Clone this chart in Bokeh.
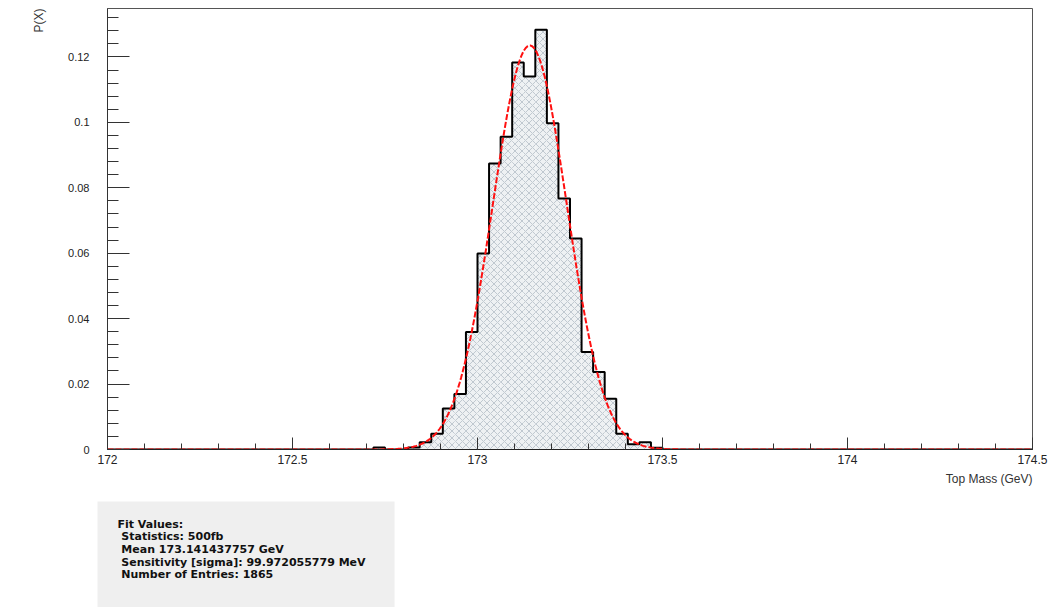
import numpy as np
from bokeh.plotting import figure
from bokeh.models import (Range1d, FixedTicker, NumeralTickFormatter, Title, Label)
from bokeh.embed import file_html
from bokeh.resources import INLINE

# ---- histogram of the reconstructed top mass (normalised per bin) ----
mass_lo, mass_hi, n_bins = 172.0, 174.5, 80
probs = [0.0] * n_bins
filled = {
    23: 0.0006, 26: 0.0006, 27: 0.0022, 28: 0.0048, 29: 0.0125, 30: 0.0170,
    31: 0.0359, 32: 0.0599, 33: 0.0874, 34: 0.0956, 35: 0.1183, 36: 0.1140,
    37: 0.1283, 38: 0.0997, 39: 0.0767, 40: 0.0645, 41: 0.0298, 42: 0.0237,
    43: 0.0155, 44: 0.0048, 45: 0.0016, 46: 0.0022, 47: 0.0005,
}
for b, v in filled.items():
    probs[b] = v

# ---- gaussian fit result ----
fit_mean = 173.141437757          # GeV
fit_sigma_mev = 99.972055779      # MeV
fit_const = 0.1235
n_entries = 1865
statistics = "500fb"

y_ticks = [0.0, 0.02, 0.04, 0.06, 0.08, 0.10, 0.12]
x_ticks = [172.0, 172.5, 173.0, 173.5, 174.0, 174.5]

edges = np.linspace(mass_lo, mass_hi, n_bins + 1)
probs = np.array(probs)

p = figure(width=1048, height=607, output_backend="svg", toolbar_location=None,
           x_range=Range1d(mass_lo, mass_hi), y_range=Range1d(0, 0.1348),
           min_border_left=107, min_border_right=16, min_border_top=8,
           min_border_bottom=158)
p.grid.visible = False
p.background_fill_color = "white"
p.border_fill_color = "white"
p.outline_line_color = "#555555"
p.outline_line_width = 1

# hatched fill of the histogram
p.quad(left=edges[:-1], right=edges[1:], bottom=0, top=probs,
       fill_color="#eef1f3", line_color=None,
       hatch_pattern="x", hatch_color="#b4bec6", hatch_scale=7, hatch_weight=0.8)

# histogram outline
step_y = np.append(probs, probs[-1])
p.step(edges, step_y, mode="after", line_color="black", line_width=2)

# fitted gaussian
xf = np.linspace(mass_lo, mass_hi, 600)
sigma = fit_sigma_mev / 1000.0
yf = fit_const * np.exp(-0.5 * ((xf - fit_mean) / sigma) ** 2)
p.line(xf, yf, line_color="#ff1010", line_width=2, line_dash="6 2")

font = "Liberation Sans"

# axes in the ROOT style: ticks inside the frame
p.yaxis.ticker = FixedTicker(ticks=y_ticks,
                             minor_ticks=list(np.round(np.arange(0, 0.1348, 0.004), 4)))
p.yaxis.formatter = NumeralTickFormatter(format="0.[00]")
p.yaxis.major_tick_in = 22
p.yaxis.major_tick_out = 0
p.yaxis.minor_tick_in = 11
p.yaxis.minor_tick_out = 0
p.yaxis.major_label_standoff = 18
p.yaxis.major_label_text_font = font
p.yaxis.major_label_text_font_size = "11px"
p.yaxis.major_label_text_color = "#222222"
p.yaxis.axis_line_color = "#333333"
p.yaxis.major_tick_line_color = "#333333"
p.yaxis.minor_tick_line_color = "#333333"

p.xaxis.ticker = FixedTicker(ticks=x_ticks,
                             minor_ticks=list(np.round(np.arange(172.0, 174.55, 0.1), 2)))
p.xaxis.formatter = NumeralTickFormatter(format="0.[0]")
p.xaxis.major_tick_in = 12
p.xaxis.major_tick_out = 0
p.xaxis.minor_tick_in = 6
p.xaxis.minor_tick_out = 0
p.xaxis.major_label_standoff = 5
p.xaxis.major_label_text_font = font
p.xaxis.major_label_text_font_size = "12px"
p.xaxis.major_label_text_color = "#222222"
p.xaxis.axis_line_color = "#222222"
p.xaxis.major_tick_line_color = "#333333"
p.xaxis.minor_tick_line_color = "#333333"

p.add_layout(Title(text="P(X)", align="right", text_font=font, text_font_size="12px",
                   text_font_style="normal", text_color="#333333", standoff=40), "left")
p.add_layout(Title(text="Top Mass (GeV)", align="right", text_font=font,
                   text_font_size="12px", text_font_style="normal",
                   text_color="#333333", standoff=6), "below")

# ---- statistics box under the axis (padding: left, right, top, bottom) ----
nb = "\u00a0"
stat_text = "\n".join([
    "Fit Values:",
    f"{nb}Statistics: {statistics}",
    f"{nb}Mean {fit_mean:.9f} GeV",
    f"{nb}Sensitivity [sigma]: {fit_sigma_mev:.9f} MeV",
    f"{nb}Number of Entries: {n_entries}",
])
p.add_layout(Label(x=-10, y=103, x_units="screen", y_units="screen",
                   text=stat_text, text_font="DejaVu Sans", text_font_size="11px",
                   text_font_style="bold", text_color="#111111",
                   text_baseline="top", text_line_height=0.98,
                   background_fill_color="#efefef", background_fill_alpha=1.0,
                   padding=(20, 29, 16, 36)), "below")

open("out.html", "w").write(file_html(p, INLINE))
